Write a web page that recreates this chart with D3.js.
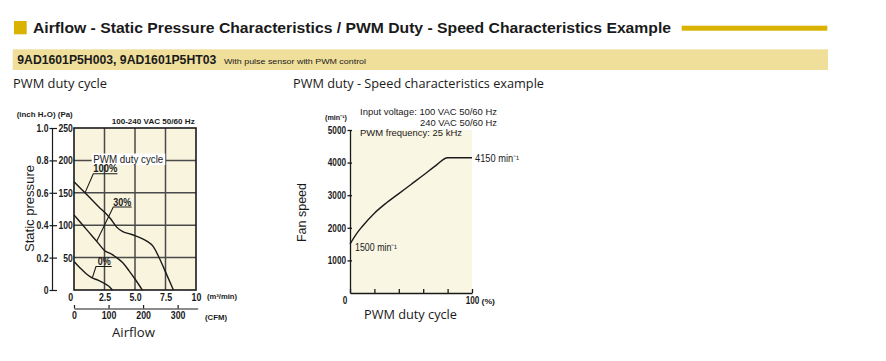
<!DOCTYPE html>
<html><head><meta charset="utf-8">
<script src="https://cdn.jsdelivr.net/npm/d3@7"></script>
<style>
body{margin:0;background:#fff;}
svg{display:block;font-family:"Liberation Sans",Arial,sans-serif;}
</style></head>
<body><svg id="c" width="886" height="361"></svg>
<script>
// ---------- data ----------
const flowTicks = [0, 2.5, 5, 7.5, 10];
const flowTickLabels = ["0", "2.5", "5.0", "7.5", "10"];
const paTicks = [0, 50, 100, 150, 200, 250];
const inchTicks = [0, 0.2, 0.4, 0.6, 0.8, 1.0];
const cfmTicks = [0, 100, 200, 300];

const flow100 = [0, 1, 2, 3, 3.5, 4, 4.5, 5, 5.5, 6, 6.5, 7, 7.5, 8.15];
const pa100   = [167, 148, 129, 110, 97, 90, 87, 84, 80, 75, 67, 49, 28, 0];
const flow30  = [0, 0.5, 1, 1.5, 2, 2.5, 3, 3.5, 4, 4.5, 5, 5.6];
const pa30    = [116, 105, 94, 83, 72, 61, 56, 50, 42, 30, 17, 0];
const flow0   = [0, 0.5, 1, 1.45, 2, 2.5, 2.9, 3.15];
const pa0     = [44, 34, 25, 19, 15, 10, 5, 0];

const dutyTicks = [0, 20, 40, 60, 80, 100];
const speedTicks = [1000, 2000, 3000, 4000, 5000];
const duty  = [0, 5, 10, 20, 30, 40, 50, 60, 70, 80, 100];
const speed = [1500, 1800, 2040, 2450, 2770, 3050, 3330, 3610, 3900, 4150, 4150];

// ---------- helpers ----------
const svg = d3.select("#c");
const GOLD = "#d9b300", BAND = "#efdf9b", BG = "#f8f4de", INK = "#1a1a1a";
function fit(sel, w){ sel.attr("textLength", w).attr("lengthAdjust", "spacingAndGlyphs"); return sel; }
function squeeze(sel, f){ sel.each(function(){ const w=this.getComputedTextLength(); this.setAttribute("textLength", w*f); this.setAttribute("lengthAdjust","spacingAndGlyphs"); }); }
function txt(x, y, s, size, opt={}){
  const t = svg.append("text").attr("x", x).attr("y", y).attr("font-size", size).attr("fill", opt.fill||INK)
    .attr("font-weight", opt.bold ? "bold" : "normal").attr("text-anchor", opt.anchor||"start");
  if (opt.family) t.attr("font-family", opt.family);
  t.text(s);
  if (opt.w) fit(t, opt.w);
  return t;
}

// ---------- header ----------
svg.append("rect").attr("x", 14).attr("y", 21).attr("width", 12.7).attr("height", 13.3).attr("fill", GOLD);
txt(33, 32.7, "Airflow - Static Pressure Characteristics / PWM Duty - Speed Characteristics Example", 14, {bold:true, w:638});
svg.append("rect").attr("x", 681.7).attr("y", 25.7).attr("width", 145.6).attr("height", 5).attr("fill", GOLD);
svg.append("rect").attr("x", 12.7).attr("y", 49.3).attr("width", 815.3).attr("height", 20.7).attr("fill", BAND);
txt(17.3, 64.3, "9AD1601P5H003, 9AD1601P5HT03", 12.5, {bold:true, w:199});
txt(224, 64, "With pulse sensor with PWM control", 7.5, {w:142});

// ---------- left chart ----------
const x = d3.scaleLinear().domain([0, 10]).range([74, 196]);
const y = d3.scaleLinear().domain([0, 250]).range([290, 128]);
const yIn = d3.scaleLinear().domain([0, 1.0]).range([290, 128]);
const cfmMax = 358;
const cfm = d3.scaleLinear().domain([0, cfmMax]).range([74, x(cfmMax / 35.3147)]);

txt(13, 88, "PWM duty cycle", 12.5, {family:"'Open Sans','Noto Sans',sans-serif", w:94});

svg.append("rect").attr("x", x(0)).attr("y", y(250)).attr("width", x(10)-x(0)).attr("height", y(0)-y(250)).attr("fill", BG);
const grid = svg.append("g").attr("stroke", "#4a4a4a").attr("stroke-width", 1.5);
grid.selectAll("line.v").data(flowTicks.slice(1, -1)).join("line")
  .attr("x1", d => x(d)).attr("x2", d => x(d)).attr("y1", y(250)).attr("y2", y(0));
grid.selectAll("line.h").data(paTicks.slice(1, -1)).join("line").attr("class","h")
  .attr("x1", x(0)).attr("x2", x(10)).attr("y1", d => y(d)).attr("y2", d => y(d));
svg.append("rect").attr("x", x(0)).attr("y", y(250)).attr("width", x(10)-x(0)).attr("height", y(0)-y(250))
  .attr("fill", "none").attr("stroke", INK).attr("stroke-width", 1.6);

// inch axis
const gIn = svg.append("g").attr("transform", "translate(52,0)")
  .call(d3.axisLeft(yIn).tickValues(inchTicks).tickFormat(d => d === 0 ? "0" : d3.format(".1f")(d)).tickSize(2.5).tickPadding(1).tickSizeOuter(0));
// Pa axis (labels between the two axes)
const gPa = svg.append("g").attr("transform", "translate(52,0)")
  .call(d3.axisRight(y).tickValues(paTicks).tickFormat(d => d === 0 ? "" : d).tickSize(5).tickSizeOuter(0));
gPa.select(".domain").remove();
gPa.selectAll("text").attr("x", 20.7).attr("text-anchor", "end");
[gIn, gPa].forEach(g => {
  g.selectAll("text").attr("font-size", 11).attr("font-family", "'Liberation Sans',Arial,sans-serif").attr("fill", INK).attr("font-weight", "bold");
  g.selectAll("line,path").attr("stroke", INK).attr("stroke-width", 1.2);
});
squeeze(gIn.selectAll("text"), 0.78);
squeeze(gPa.selectAll("text"), 0.78);

// x axis labels (m3/min)
const gX = svg.append("g").attr("transform", `translate(0,${y(0)})`)
  .call(d3.axisBottom(x).tickValues(flowTicks).tickFormat((d,i) => flowTickLabels[i]).tickSize(0).tickPadding(3));
gX.select(".domain").remove();
gX.selectAll("text").attr("font-size", 11).attr("font-weight", "bold").attr("fill", INK).attr("font-family", "'Liberation Sans',Arial,sans-serif");
gX.selectAll("text").filter(d => d === 0).attr("text-anchor", "end").attr("x", -1.3);
squeeze(gX.selectAll("text"), 0.8);
txt(207, 299, "(m³/min)", 7, {bold:true, w:30});

// CFM axis
const gC = svg.append("g").attr("transform", "translate(0,308.5)")
  .call(d3.axisBottom(cfm).tickValues(cfmTicks).tickSize(-3.5).tickPadding(3).tickSizeOuter(0));
gC.selectAll("line,path").attr("stroke", INK).attr("stroke-width", 1.2);
gC.selectAll("text").attr("font-size", 11).attr("font-weight", "bold").attr("fill", INK).attr("font-family", "'Liberation Sans',Arial,sans-serif");
squeeze(gC.selectAll("text"), 0.8);
txt(205, 320, "(CFM)", 7, {bold:true, w:22});

txt(133.5, 337, "Airflow", 13, {anchor:"middle", family:"'Open Sans','Noto Sans',sans-serif", w:43});
svg.append("text").attr("transform", "translate(34,208.5) rotate(-90)").attr("text-anchor", "middle")
  .attr("font-size", 13).attr("fill", INK).text("Static pressure").call(fit, 87);

// unit labels
txt(16.7, 117.3, "(inch H₂O)  (Pa)", 7, {bold:true, w:56});
txt(111.7, 124, "100-240 VAC  50/60 Hz", 7.5, {bold:true, w:83});

// curves
const line = d3.line().x(d => x(d[0])).y(d => y(d[1])).curve(d3.curveMonotoneX);
const curves = [d3.zip(flow100, pa100), d3.zip(flow30, pa30), d3.zip(flow0, pa0)];
svg.append("g").selectAll("path").data(curves).join("path").attr("d", line)
  .attr("fill", "none").attr("stroke", INK).attr("stroke-width", 1.4);

// curve labels
svg.append("rect").attr("x", 91.7).attr("y", 153.5).attr("width", 73.5).attr("height", 11.5).attr("fill", "#fff");
txt(93.3, 162.7, "PWM duty cycle", 10, {w:70});
const lead = svg.append("g").attr("stroke", INK).attr("stroke-width", 1.1).attr("fill", "none");
const leaders = [
  {t:"100%", tx:93.3, ty:172.3, tw:24, ux1:93.3, ux2:117.5, uy:173.8, fl:0.9, pa:pa100, fw:flow100},
  {t:"30%",  tx:113.3, ty:205.5, tw:18, ux1:113.3, ux2:131.7, uy:207, fl:1.86, pa:pa30, fw:flow30},
  {t:"0%",   tx:97.7, ty:265, tw:13, ux1:96, ux2:111.7, uy:266.5, fl:1.5, pa:pa0, fw:flow0}
];
leaders.forEach(L => {
  txt(L.tx, L.ty, L.t, 10, {bold:true, w:L.tw});
  const i = d3.bisectLeft(L.fw, L.fl);
  const t = (L.fl - L.fw[i-1]) / (L.fw[i] - L.fw[i-1]);
  const pv = L.pa[i-1] + t * (L.pa[i] - L.pa[i-1]);
  lead.append("path").attr("d", `M${L.ux2},${L.uy}H${L.ux1}L${x(L.fl)},${y(pv)}`);
});

// ---------- right chart ----------
const xd = d3.scaleLinear().domain([0, 100]).range([350, 472]);
const ys = d3.scaleLinear().domain([0, 5000]).range([293, 130]);

txt(293, 88, "PWM duty - Speed characteristics example", 12.5, {family:"'Open Sans','Noto Sans',sans-serif", w:251});
svg.append("rect").attr("x", xd(0)).attr("y", ys(5000)).attr("width", xd(100)-xd(0)).attr("height", ys(0)-ys(5000)).attr("fill", "#faf6e4");

const gY2 = svg.append("g").attr("transform", `translate(${xd(0)},0)`)
  .call(d3.axisLeft(ys).tickValues(speedTicks).tickFormat(d3.format("d")).tickSize(2.5).tickPadding(1.5).tickSizeOuter(0));
gY2.selectAll(".tick line").attr("x1", 2);
const gX2 = svg.append("g").attr("transform", `translate(0,${ys(0)})`)
  .call(d3.axisBottom(xd).tickValues(dutyTicks).tickFormat(d => (d === 0 || d === 100) ? d : "").tickSize(-4).tickPadding(4).tickSizeOuter(0));
gX2.selectAll("text").filter(d => d === 0).attr("text-anchor", "end").attr("x", -3.3);
[gY2, gX2].forEach(g => {
  g.selectAll("line,path").attr("stroke", INK).attr("stroke-width", 1.3);
  g.selectAll("text").attr("font-size", 10.5).attr("font-weight", "bold").attr("fill", INK).attr("font-family", "'Liberation Sans',Arial,sans-serif");
  squeeze(g.selectAll("text"), 0.78);
});
txt(481.5, 304, "(%)", 7, {bold:true, w:13.5});

const sline = d3.line().x(d => xd(d[0])).y(d => ys(d[1])).curve(d3.curveMonotoneX);
svg.append("path").datum(d3.zip(duty, speed)).attr("d", sline).attr("fill", "none").attr("stroke", INK).attr("stroke-width", 1.4);

txt(475, 161.7, speed[speed.length-1] + " min⁻¹", 10, {w:44});
txt(355, 251, speed[0] + " min⁻¹", 10, {w:42});

txt(325, 120, "(min⁻¹)", 7, {bold:true, w:22});
txt(360, 115, "Input voltage: 100 VAC  50/60 Hz", 9, {w:137});
txt(420, 125.5, "240 VAC  50/60 Hz", 9, {w:77});
txt(360, 136, "PWM frequency: 25 kHz", 9, {w:102});

svg.append("text").attr("transform", "translate(306,212.5) rotate(-90)").attr("text-anchor", "middle")
  .attr("font-size", 12).attr("fill", INK).text("Fan speed").call(fit, 59);
txt(410.5, 319, "PWM duty cycle", 12.5, {anchor:"middle", family:"'Open Sans','Noto Sans',sans-serif", w:93});
</script></body></html>
